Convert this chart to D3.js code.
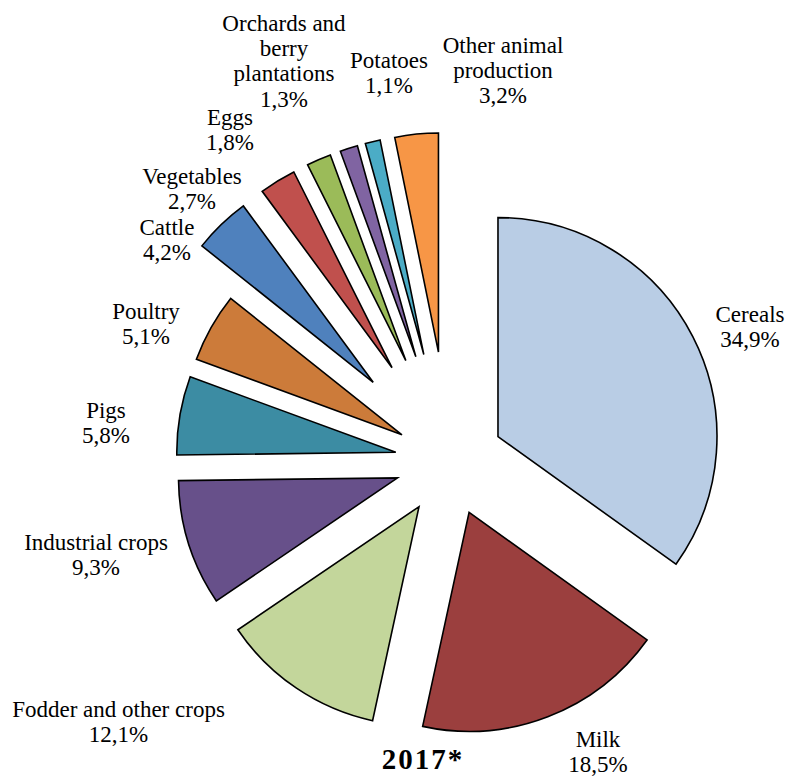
<!DOCTYPE html>
<html><head><meta charset="utf-8">
<script src="https://cdn.jsdelivr.net/npm/d3@7"></script>
<style>html,body{margin:0;padding:0;background:#fff;} svg{display:block}</style>
</head><body>
<svg id="chart" width="789" height="776"></svg>
<script>
// ---- data ----
const categories = ["Cereals","Milk","Fodder and other crops","Industrial crops","Pigs","Poultry","Cattle","Vegetables","Eggs","Orchards and berry plantations","Potatoes","Other animal production"];
const shares = [34.9,18.5,12.1,9.3,5.8,5.1,4.2,2.7,1.8,1.3,1.1,3.2];
const labelLines = [["Cereals"],["Milk"],["Fodder and other crops"],["Industrial crops"],["Pigs"],["Poultry"],["Cattle"],["Vegetables"],["Eggs"],["Orchards and","berry","plantations"],["Potatoes"],["Other animal","production"]];
const title = "2017*";

// ---- layout / style ----
const W = 789, H = 776;
const center = [449.5, 461.5];
const radius = 219;
const explode = [54.5,54.5,54.5,54.5,54.5,54.5,110,110,110,110,110,110];
const colors = ["#B9CDE5","#9B3F3E","#C3D69B","#67508A","#3C8CA3","#CC7B3A","#4F81BD","#C0504D","#9BBB59","#8064A2","#4BACC6","#F79646"];
const labelAnchors = [[750,322],[598,747],[118.5,717],[96,550],[106,418],[146,319],[167,235],[192,184],[230,125],[284,31],[389,68],[503,53]];
const lineH = 25.2;
const fontFamily = "'Liberation Serif','Times New Roman',serif";

const fmt = v => d3.format(".1f")(v).replace(".", ",") + "%";

const svg = d3.select("#chart");
const data = categories.map((c, i) => ({cat: c, value: shares[i], i}));
const pie = d3.pie().value(d => d.value).sort(null).startAngle(0).endAngle(2 * Math.PI);
const arc = d3.arc().innerRadius(0).outerRadius(radius);
const arcs = pie(data);

const g = svg.append("g").attr("transform", `translate(${center[0]},${center[1]})`);
g.selectAll("path.slice").data(arcs).join("path")
  .attr("class", "slice")
  .attr("d", arc)
  .attr("transform", d => {
    const a = (d.startAngle + d.endAngle) / 2;
    const e = explode[d.data.i];
    return `translate(${e * Math.sin(a)},${-e * Math.cos(a)})`;
  })
  .attr("fill", d => colors[d.data.i])
  .attr("stroke", "#000")
  .attr("stroke-width", 1.6)
  .attr("stroke-linejoin", "miter");

const lbl = svg.append("g")
  .attr("font-family", fontFamily)
  .attr("font-size", 23)
  .attr("fill", "#000")
  .attr("text-anchor", "middle");

arcs.forEach(d => {
  const i = d.data.i;
  const [x, y] = labelAnchors[i];
  const lines = labelLines[i].concat([fmt(shares[i])]);
  const t = lbl.append("text").attr("x", x).attr("y", y);
  lines.forEach((ln, k) => {
    t.append("tspan").attr("x", x).attr("y", y + k * lineH).text(ln);
  });
});

svg.append("text")
  .attr("x", 423).attr("y", 769)
  .attr("text-anchor", "middle")
  .attr("font-family", fontFamily)
  .attr("font-weight", "bold")
  .attr("font-size", 29)
  .attr("letter-spacing", 2)
  .text(title);
</script>
</body></html>
